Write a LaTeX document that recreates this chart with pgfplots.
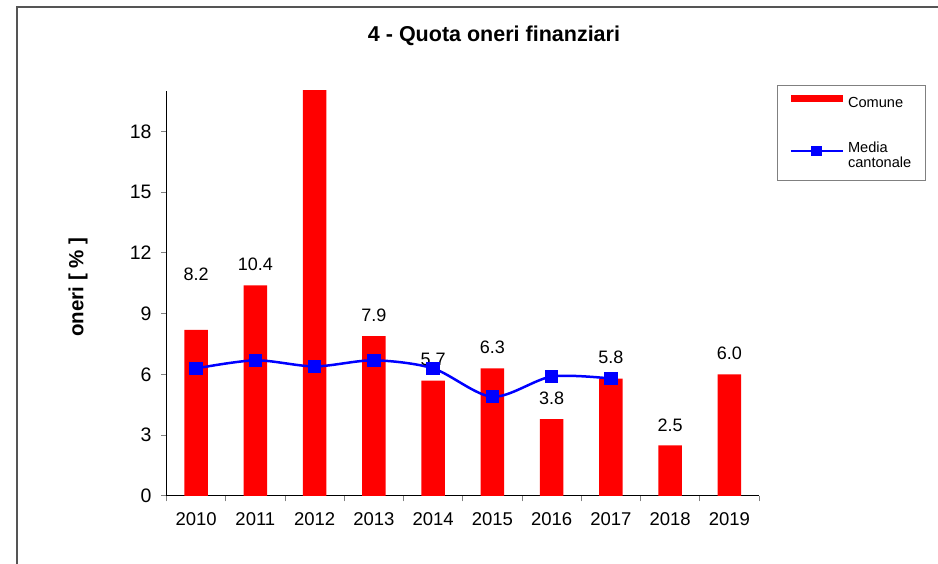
\documentclass[border=0pt]{standalone}
\usepackage{fontspec}
\setmainfont{Liberation Sans}
\usepackage{pgfplots}
\pgfplotsset{compat=1.18}
\definecolor{barred}{HTML}{FF0000}
\definecolor{lineblue}{HTML}{0000FF}
\definecolor{framegray}{HTML}{555555}

\begin{document}
\begin{tikzpicture}
  % page = 938 x 564 bp, 1 px = 1 bp
  \useasboundingbox (0,0) rectangle (938bp,564bp);
  \draw[framegray, line width=1.4bp] (17bp,0) -- (17bp,557bp) -- (940bp,557bp);

  \node[font=\bfseries\fontsize{21.5bp}{24bp}\selectfont] at (494bp,528.5bp) {4 - Quota oneri finanziari};
  \node[font=\bfseries\fontsize{20.5bp}{24bp}\selectfont, rotate=90] at (78bp,277bp) {oneri [ \% ]};

  \begin{axis}[
    scale only axis,
    width=592.5bp,
    height=405bp,
    at={(166.5bp,68bp)},
    anchor=south west,
    xmin=-0.5, xmax=9.5,
    ymin=0, ymax=20,
    axis x line*=bottom,
    axis y line*=left,
    x axis line style={-, line width=1bp},
    y axis line style={-, line width=1bp},
    xtick={-0.5,0.5,1.5,2.5,3.5,4.5,5.5,6.5,7.5,8.5,9.5},
    x tick label as interval,
    xticklabels={2010,2011,2012,2013,2014,2015,2016,2017,2018,2019},
    ytick={0,3,6,9,12,15,18},
    tick align=outside,
    major tick length=5.5bp,
    tick style={gray, line width=1bp},
    /pgf/number format/assume math mode=true,
    xticklabel style={font=\fontsize{18.5bp}{20bp}\selectfont, yshift=-8bp},
    yticklabel style={font=\fontsize{19.5bp}{21bp}\selectfont, xshift=-6bp},
    legend cell align=left,
    legend style={
      at={(1.0304,1.0148)}, anchor=north west,
      draw=gray, line width=1bp,
      font=\fontsize{14.6bp}{15bp}\selectfont,
      cells={align=left},
      inner xsep=12bp, inner ysep=9bp,
      column sep=2bp,
      row sep=29bp
    },
  ]

    % Comune
    \addplot[
      ybar, bar width=23.5bp,
      fill=barred, draw=none,
      legend image code/.code={\fill[barred] (0bp,1.8bp) rectangle (52bp,8.8bp);}
    ] coordinates {
      (0,8.2) (1,10.4) (2,21.0) (3,7.9) (4,5.7)
      (5,6.3) (6,3.8) (7,5.8) (8,2.5) (9,6.0)
    };
    \addlegendentry{Comune}

    % Media cantonale
    \addplot[
      lineblue, line width=2.5bp, smooth,
      mark=square*, mark size=6.2bp,
      mark options={fill=lineblue, draw=lineblue, line width=0bp},
      legend image code/.code={
        \draw[line width=2.5bp] (0bp,4.5bp) -- (52bp,4.5bp);
        \draw[mark size=4.8bp] plot coordinates {(26bp,4.5bp)};
      }
    ] coordinates {
      (0,6.3) (1,6.7) (2,6.4) (3,6.7) (4,6.3)
      (5,4.9) (6,5.9) (7,5.8)
    };
    \addlegendentry{Media\\cantonale}

    % etichette dei valori
    \begin{scope}[font=\fontsize{18bp}{20bp}\selectfont]
      \node at (axis cs:0,10.96) {8.2};
      \node at (axis cs:1,11.46) {10.4};
      \node at (axis cs:3,8.94) {7.9};
      \node at (axis cs:4,6.77) {5.7};
      \node at (axis cs:5,7.36) {6.3};
      \node at (axis cs:6,4.84) {3.8};
      \node at (axis cs:7,6.86) {5.8};
      \node at (axis cs:8,3.51) {2.5};
      \node at (axis cs:9,7.06) {6.0};
    \end{scope}

  \end{axis}
\end{tikzpicture}
\end{document}
